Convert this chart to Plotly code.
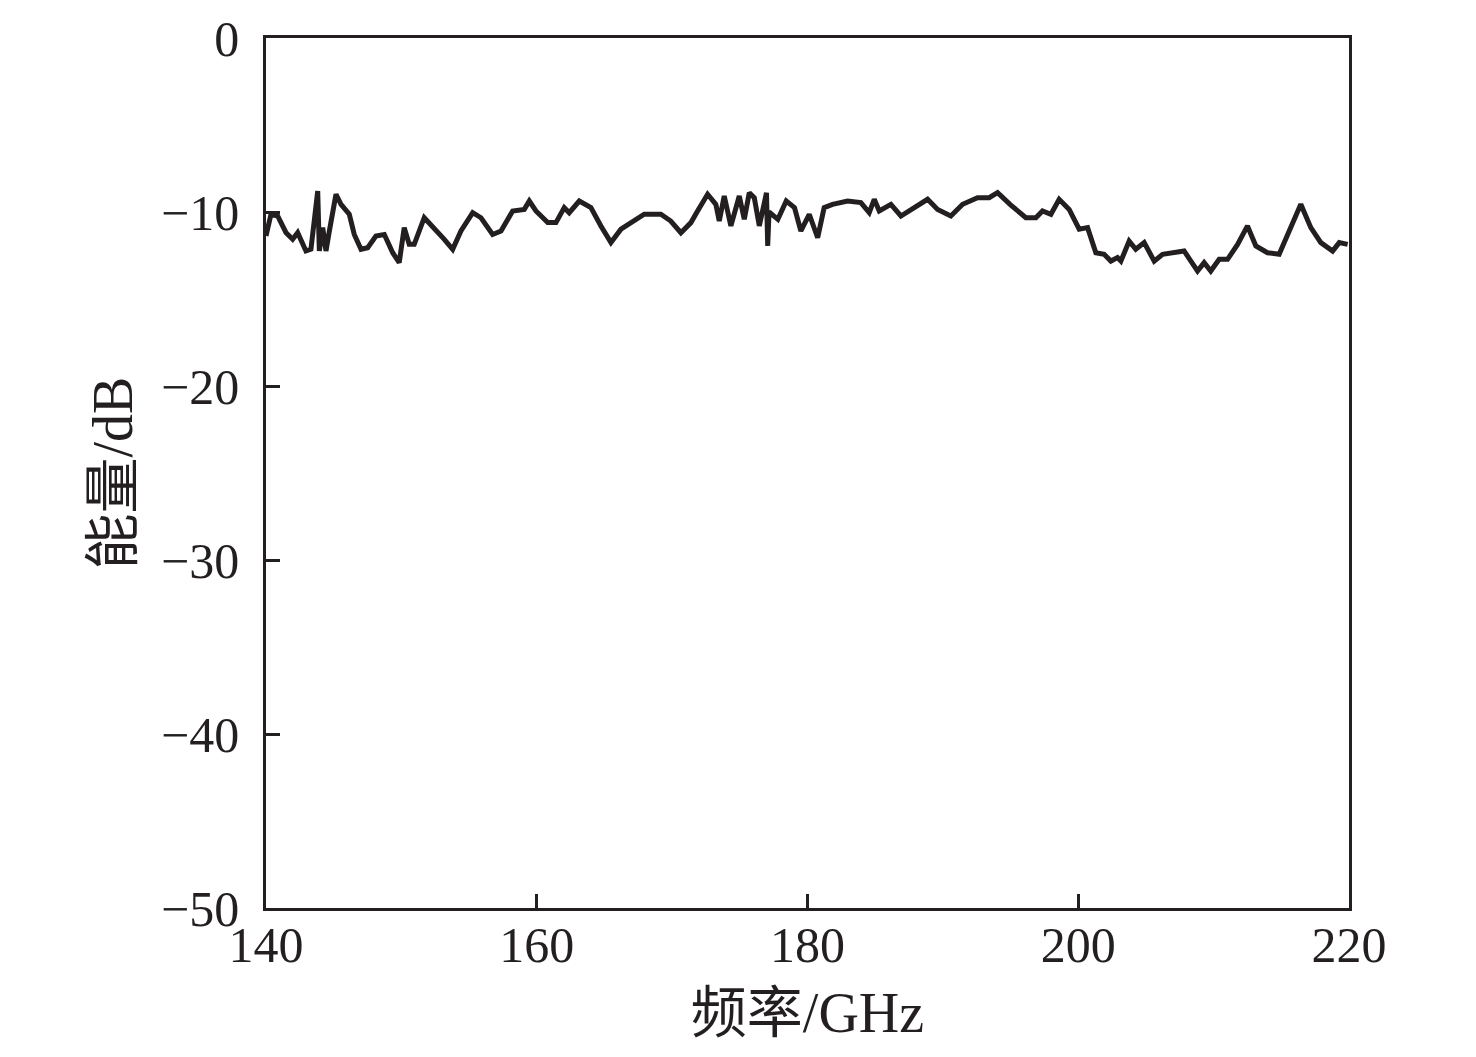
import plotly.graph_objects as go

# frequency (GHz) and energy (dB)
freq = [140.0, 140.37, 140.86, 141.48, 141.97, 142.34, 142.95, 143.32, 143.82, 143.94,
        144.19, 144.43, 144.68, 144.93, 145.17, 145.54, 146.15, 146.52, 147.02, 147.51,
        148.12, 148.74, 149.36, 149.84, 150.21, 150.58, 150.95, 151.69, 152.43, 153.17,
        153.79, 154.40, 155.27, 155.88, 156.74, 157.36, 158.22, 159.08, 159.45, 159.94,
        160.81, 161.42, 162.03, 162.40, 163.14, 164.00, 164.74, 165.48, 166.22, 166.96,
        167.94, 169.17, 169.90, 170.65, 171.39, 171.88, 172.62, 173.23, 173.48, 173.85,
        174.34, 174.96, 175.33, 175.70, 176.07, 176.44, 176.82, 176.97, 177.06, 177.16,
        177.81, 178.43, 179.04, 179.51, 180.13, 180.75, 181.23, 181.85, 182.96, 183.94,
        184.56, 184.93, 185.30, 186.16, 186.90, 187.88, 188.87, 189.61, 190.59, 191.46,
        192.56, 193.42, 194.04, 195.02, 196.13, 196.87, 197.36, 197.98, 198.59, 199.33,
        200.07, 200.69, 201.30, 201.91, 202.41, 202.90, 203.15, 203.76, 204.25, 204.87,
        205.61, 206.23, 207.82, 208.32, 208.81, 209.30, 209.79, 210.41, 211.03, 211.77,
        212.50, 213.12, 213.98, 214.84, 215.46, 216.44, 217.18, 217.92, 218.79, 219.28,
        219.90]
energy = [-11.38, -10.13, -10.23, -11.19, -11.57, -11.19, -12.24, -12.14, -8.79, -12.24,
          -10.9, -12.24, -11.09, -9.94, -8.98, -9.56, -10.13, -11.29, -12.14, -12.05,
          -11.38, -11.29, -12.34, -12.91, -10.9, -11.86, -11.86, -10.33, -10.9, -11.57,
          -12.14, -11.09, -10.04, -10.33, -11.29, -11.09, -9.94, -9.85, -9.37, -9.94,
          -10.61, -10.61, -9.75, -10.04, -9.37, -9.75, -10.8, -11.76, -10.99, -10.6,
          -10.13, -10.13, -10.52, -11.19, -10.61, -9.94, -8.98, -9.56, -10.52, -9.08,
          -10.8, -9.08, -10.42, -8.89, -9.18, -10.8, -9.2, -8.9, -11.95, -10.0,
          -10.42, -9.37, -9.75, -11.09, -10.13, -11.48, -9.75, -9.56, -9.37, -9.46,
          -10.04, -9.27, -9.94, -9.56, -10.23, -9.75, -9.27, -9.85, -10.23, -9.56,
          -9.18, -9.18, -8.89, -9.6, -10.33, -10.33, -9.94, -10.13, -9.27, -9.85,
          -10.99, -10.9, -12.34, -12.43, -12.82, -12.62, -12.82, -11.67, -12.14, -11.76,
          -12.82, -12.43, -12.24, -12.82, -13.39, -12.91, -13.39, -12.72, -12.72, -11.86,
          -10.8, -11.95, -12.34, -12.43, -11.29, -9.56, -10.9, -11.76, -12.24, -11.76,
          -11.86]

x_ticks = [140, 160, 180, 200, 220]
y_ticks = [0, -10, -20, -30, -40, -50]
y_labels = ['0', '\u221210', '\u221220', '\u221230', '\u221240', '\u221250']

font_family = 'Liberation Serif, Noto Sans CJK SC, serif'
ink = '#231f20'

fig = go.Figure()
fig.add_trace(go.Scatter(x=freq, y=energy, mode='lines',
                         line=dict(color=ink, width=5), showlegend=False))

fig.update_layout(
    width=1476, height=1057,
    margin=dict(l=258, r=135, t=30, b=157),
    paper_bgcolor='white', plot_bgcolor='white',
    font=dict(family=font_family, size=50, color=ink),
)
fig.update_xaxes(range=[140, 220], tickvals=x_ticks, ticks='inside', ticklen=14,
                 tickwidth=2.5, tickcolor=ink, showline=True, linecolor=ink, linewidth=2.5,
                 mirror=True, showgrid=False, zeroline=False, automargin=False,
                 ticklabelstandoff=-9,
                 title=dict(text='频率/GHz', standoff=22, font=dict(size=56)))
fig.update_yaxes(range=[-50, 0], tickvals=y_ticks, ticktext=y_labels, ticks='inside',
                 ticklen=14, tickwidth=2.5, tickcolor=ink, showline=True, linecolor=ink,
                 linewidth=2.5, mirror=True, showgrid=False, zeroline=False,
                 ticklabelstandoff=14, automargin=False,
                 title=dict(text='能量/dB', standoff=11, font=dict(size=56)))

fig.write_html("out.html")
